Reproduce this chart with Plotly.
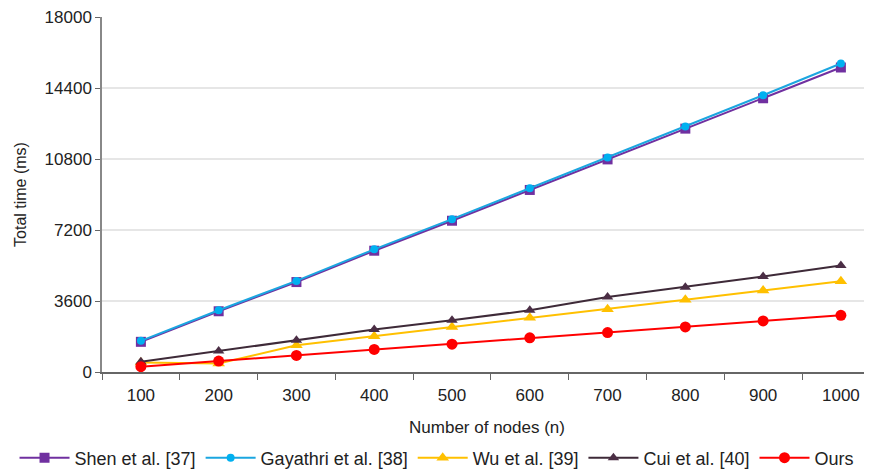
import plotly.graph_objects as go

nodes = ["100", "200", "300", "400", "500", "600", "700", "800", "900", "1000"]
shen = [1530, 3080, 4560, 6150, 7670, 9230, 10780, 12340, 13880, 15440]
gayathri = [1580, 3130, 4620, 6220, 7750, 9320, 10880, 12450, 14030, 15640]
wu = [480, 430, 1360, 1815, 2284, 2756, 3176, 3665, 4134, 4604]
cui = [520, 1070, 1613, 2153, 2622, 3126, 3797, 4301, 4840, 5395]
ours = [267, 555, 842, 1143, 1412, 1731, 2002, 2284, 2587, 2874]
y_ticks = [0, 3600, 7200, 10800, 14400, 18000]

FONT = "Liberation Sans, Arial, sans-serif"

series = [
    ("Shen et al. [37]", shen, "#7030A0", "#7030A0", "square", 10),
    ("Gayathri et al. [38]", gayathri, "#1BA6E0", "#00B0F0", "circle", 8),
    ("Wu et al. [39]", wu, "#FFC000", "#FFC000", "triangle-up", 11),
    ("Cui et al. [40]", cui, "#3E2A38", "#4B2E45", "triangle-up", 10),
    ("Ours", ours, "#FF0000", "#FF0000", "circle", 11),
]

fig = go.Figure()
for name, vals, lc, mc, sym, size in series:
    fig.add_trace(go.Scatter(
        x=nodes, y=vals, name=name, mode="lines+markers",
        line=dict(color=lc, width=2),
        marker=dict(color=mc, symbol=sym, size=size),
    ))

# page has an 8px body margin, so the figure is 8px smaller each way
fig.update_layout(
    width=864, height=466, autosize=False,
    margin=dict(l=94, r=0, t=9, b=102, autoexpand=False),
    plot_bgcolor="white", paper_bgcolor="white",
    font=dict(family=FONT, size=17, color="#222"),
    showlegend=True,
    legend=dict(orientation="h", x=-0.1136, y=-0.19, xanchor="left", yanchor="top",
                font=dict(size=18, color="#222"), itemwidth=50),
)
fig.update_xaxes(
    type="category", range=[-0.5, 9.4], automargin=False,
    tickson="boundaries", ticks="outside", ticklen=6, tickcolor="#666",
    showline=True, linecolor="#666", linewidth=1.5, showgrid=False,
    tickfont=dict(size=17, color="#222"), ticklabelstandoff=7,
    title=dict(text="Number of nodes (n)", font=dict(size=17, color="#222"), standoff=17),
)
fig.update_yaxes(
    range=[0, 18000], tickvals=y_ticks, ticktext=[str(v) for v in y_ticks],
    automargin=False, ticklabeloverflow="allow",
    ticks="outside", ticklen=5, tickcolor="#666",
    showline=True, linecolor="#888", linewidth=1.5,
    showgrid=True, gridcolor="#E6E6E6", gridwidth=1.5, zeroline=False,
    tickfont=dict(size=17, color="#222"),
    title=dict(text="Total time (ms)", font=dict(size=16, color="#222"), standoff=14),
)

fig.write_html("out.html")
